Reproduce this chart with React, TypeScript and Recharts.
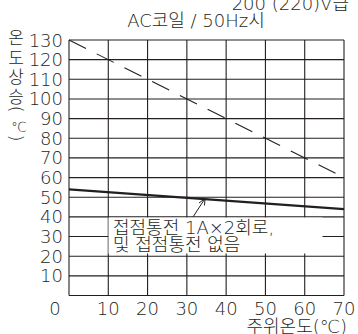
import React from 'react';
import { LineChart, Line, XAxis, YAxis, CartesianGrid } from 'recharts';

const ambientTemps = [0, 70];
const rateNoContact = [130, 60];
const rateContact = [54, 44];
const xTicks = [0, 10, 20, 30, 40, 50, 60, 70];
const yTicks = [0, 10, 20, 30, 40, 50, 60, 70, 80, 90, 100, 110, 120, 130];
const yLabelChars = ['온', '도', '상', '승'];
const noteLines = ['접점통전 1A×2회로,', '및 접점통전 없음'];

const FONT = '"DejaVu Sans", "Noto Sans CJK KR", sans-serif';
const INK = '#231f20';
const WEIGHT = 200;

const data = ambientTemps.map((t, i) => ({
    t,
    upper: rateNoContact[i],
    lower: rateContact[i]
}));

const XTick = (props: any) => {
    const { x, y, payload } = props;
    const shift = payload.value === 0 ? -14 : 0;
    return (
        <text x={x + shift} y={y} dy={13} textAnchor="middle" fontSize={18} fontWeight={WEIGHT} fill={INK} fontFamily={FONT}>
            {payload.value}
        </text>
    );
};

const YTick = (props: any) => {
    const { x, y, payload } = props;
    if (payload.value === 0) return null;
    return (
        <text x={x} y={y} dy={6.5} textAnchor="end" fontSize={18} fontWeight={WEIGHT} fill={INK} fontFamily={FONT}>
            {payload.value}
        </text>
    );
};

export default function App() {
    const t = { fill: INK, fontFamily: FONT, fontWeight: WEIGHT };
    return (
        <div style={{ position: 'absolute', left: 0, top: 0, width: 358, height: 334, background: '#fff', overflow: 'hidden' }}>
            <LineChart width={358} height={334} data={data} margin={{ top: 40, right: 14, bottom: 0, left: 0 }}>
                <CartesianGrid stroke={INK} strokeWidth={1.1} horizontalValues={yTicks} verticalValues={xTicks} />
                <XAxis
                    dataKey="t"
                    type="number"
                    domain={[0, 70]}
                    ticks={xTicks}
                    height={38.5}
                    tickSize={0}
                    tickMargin={6}
                    axisLine={false}
                    tick={<XTick />}
                    interval={0}
                />
                <YAxis
                    type="number"
                    domain={[0, 130]}
                    ticks={yTicks}
                    width={69}
                    tickSize={0}
                    tickMargin={6}
                    axisLine={false}
                    tick={<YTick />}
                    interval={0}
                />
                <Line
                    dataKey="upper"
                    stroke={INK}
                    strokeWidth={1.1}
                    strokeDasharray="19 12"
                    dot={false}
                    isAnimationActive={false}
                />
                <Line dataKey="lower" stroke={INK} strokeWidth={2.3} dot={false} isAnimationActive={false} />
            </LineChart>
            <svg width={358} height={334} style={{ position: 'absolute', left: 0, top: 0, pointerEvents: 'none' }}>
                <text x={349} y={10} textAnchor="end" fontSize={18} {...t}>200 (220)V급</text>
                <text x={196} y={27} textAnchor="middle" fontSize={18} {...t}>AC코일 / 50Hz시</text>
                {yLabelChars.map((c, i) => (
                    <text key={c} x={16} y={44 + i * 19.6} textAnchor="middle" fontSize={17} {...t}>{c}</text>
                ))}
                <text x={0} y={0} textAnchor="middle" dominantBaseline="central" fontSize={17} {...t}
                    transform="translate(16 109) rotate(90)">(</text>
                <text x={19} y={132} textAnchor="middle" fontSize={14} {...t}>℃</text>
                <text x={0} y={0} textAnchor="middle" dominantBaseline="central" fontSize={17} {...t}
                    transform="translate(16 138) rotate(90)">)</text>
                <rect x={108.5} y={217.5} width={214} height={36} fill="#fff" />
                {noteLines.map((l, i) => (
                    <text key={l} x={113} y={234 + i * 17} fontSize={18} {...t}>{l}</text>
                ))}
                <line x1={193} y1={217} x2={205} y2={198.5} stroke={INK} strokeWidth={1} />
                <polyline points="199,203 205,198.5 204.5,205.5" fill="none" stroke={INK} strokeWidth={1} />
                <text x={347} y={333} textAnchor="end" fontSize={18} {...t}>주위온도(℃)</text>
            </svg>
        </div>
    );
}
